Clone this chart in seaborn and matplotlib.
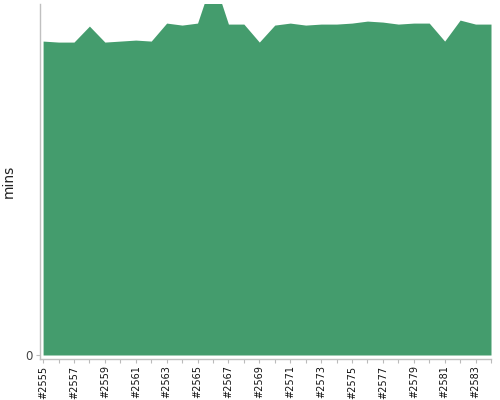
import matplotlib
matplotlib.use("Agg")
import matplotlib.pyplot as plt
import seaborn as sns
import pandas as pd

builds = [f"#{n}" for n in range(2555, 2585)]
mins = [31.4, 31.3, 31.3, 32.9, 31.3, 31.4, 31.5, 31.4, 33.2, 33.0,
        33.2, 37.8, 33.1, 33.1, 31.3, 33.0, 33.2, 33.0, 33.1, 33.1,
        33.2, 33.4, 33.3, 33.1, 33.2, 33.2, 31.4, 33.5, 33.1, 33.1]

sns.set_style("white")
df = pd.DataFrame({"build": builds, "mins": mins})
df["idx"] = range(len(df))

fig = plt.figure(figsize=(5, 4), dpi=100)
ax = fig.add_axes([0.08, 0.10375, 0.902, 0.886])
color = "#449c6d"
sns.lineplot(data=df, x="idx", y="mins", ax=ax, color=color, linewidth=0)
ax.fill_between(df["idx"], 0, df["mins"], color=color, linewidth=0)

ax.set_xlim(-0.2, len(df) - 1)
ax.set_ylim(-0.35, 35.1)
ax.set_yticks([0])
ax.set_yticklabels(["0"], fontsize=8.5, color="#444444")
ax.set_xticks(df["idx"])
ax.set_xticklabels([b if i % 2 == 0 else "" for i, b in enumerate(builds)],
                   rotation=90, fontsize=7, color="#111111")
ax.tick_params(axis="both", length=3, width=0.8, color="#bbbbbb", pad=2)
ax.tick_params(axis="x", bottom=True)
ax.tick_params(axis="y", left=True)
ax.set_xlabel("")
ax.set_ylabel("mins", fontsize=10, color="#222222")
ax.yaxis.set_label_coords(-0.054, 0.5)

for s in ["top", "right"]:
    ax.spines[s].set_visible(False)
for s in ["left", "bottom"]:
    ax.spines[s].set_color("#c0c0c0")
    ax.spines[s].set_linewidth(1)

fig.savefig("out.png", dpi=100)
